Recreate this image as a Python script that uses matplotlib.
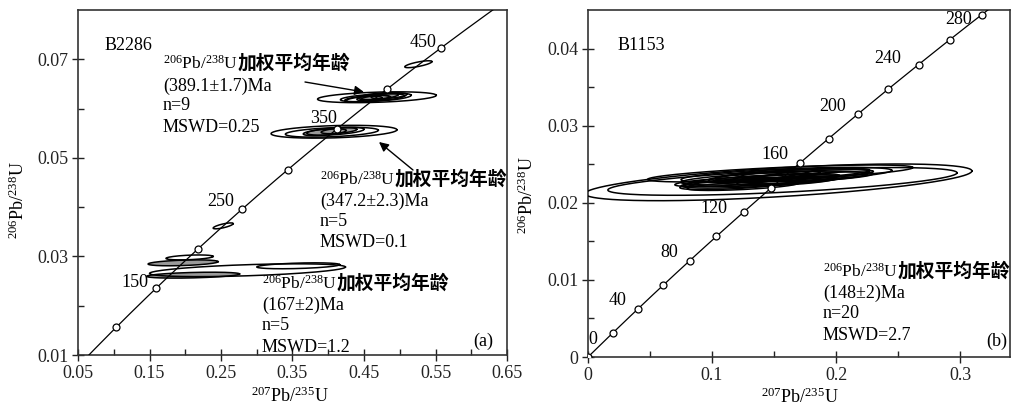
import numpy as np
import matplotlib
matplotlib.use("Agg")
import matplotlib.pyplot as plt
from matplotlib.ticker import FixedLocator, FuncFormatter
from matplotlib.offsetbox import TextArea, HPacker, AnnotationBbox
from matplotlib.patches import FancyArrowPatch, Polygon

plt.rcParams['mathtext.fontset'] = 'custom'
plt.rcParams['mathtext.rm'] = 'Liberation Serif'
plt.rcParams['mathtext.it'] = 'Liberation Serif:italic'
plt.rcParams['mathtext.bf'] = 'Liberation Serif:bold'
plt.rcParams['font.family'] = ['Liberation Serif', 'DejaVu Serif']

# ---------------- data ----------------
# decay constants (per Ma)
LAMBDA_238 = 1.55125e-4
LAMBDA_235 = 9.8485e-4

# panel (a) concordia
a_marker_ages = [100, 150, 200, 250, 300, 350, 400, 450]
a_label_ages = [150, 250, 350, 450]
a_curve_range = (50, 520)
# panel (b) concordia
b_marker_ages = [0, 20, 40, 60, 80, 100, 120, 140, 160, 180, 200, 220, 240, 260, 280]
b_label_ages = [0, 40, 80, 120, 160, 200, 240, 280]
b_curve_range = (0, 300)

# panel (a) error ellipses: centre x (207Pb/235U), centre y (206Pb/238U), half-widths, correlation
a_ell_x   = [0.468, 0.462, 0.455, 0.470, 0.478, 0.465, 0.485, 0.450, 0.526,
             0.408, 0.405, 0.410, 0.395, 0.415,
             0.287, 0.197, 0.206, 0.211, 0.358, 0.253]
a_ell_y   = [0.0623, 0.0622, 0.0620, 0.0625, 0.0623, 0.0621, 0.0626, 0.0619, 0.0690,
             0.0553, 0.0552, 0.0554, 0.0552, 0.0555,
             0.0272, 0.0287, 0.0298, 0.0262, 0.0281, 0.0362]
a_ell_sx  = [0.083, 0.045, 0.032, 0.028, 0.038, 0.020, 0.025, 0.025, 0.019,
             0.088, 0.065, 0.040, 0.030, 0.025,
             0.137, 0.049, 0.033, 0.065, 0.058, 0.014]
a_ell_sy  = [0.0011, 0.0008, 0.0007, 0.0007, 0.0008, 0.0006, 0.0006, 0.0006, 0.0007,
             0.0013, 0.0010, 0.0008, 0.0007, 0.0006,
             0.0013, 0.0006, 0.0005, 0.0006, 0.0006, 0.0006]
a_ell_rho = [0.35, 0.5, 0.5, 0.5, 0.5, 0.5, 0.5, 0.5, 0.75,
             0.3, 0.4, 0.5, 0.5, 0.5,
             0.5, 0.4, 0.4, 0.4, 0.4, 0.75]

# panel (b) error ellipses (n=20)
b_ell_x   = [0.1536, 0.1568, 0.155, 0.160,
             0.150, 0.140, 0.165, 0.130, 0.175, 0.155, 0.120, 0.185,
             0.145, 0.160, 0.135, 0.170, 0.150, 0.110, 0.190, 0.125]
b_ell_y   = [0.02265, 0.02277, 0.0238, 0.0236,
             0.0232, 0.0229, 0.0236, 0.0226, 0.0238, 0.0231, 0.0224, 0.0237,
             0.0235, 0.0228, 0.0233, 0.0230, 0.0239, 0.0227, 0.0234, 0.0222]
b_ell_sx  = [0.156, 0.1408, 0.107, 0.085,
             0.075, 0.060, 0.062, 0.055, 0.052, 0.048, 0.046, 0.045,
             0.042, 0.040, 0.038, 0.036, 0.032, 0.040, 0.040, 0.045]
b_ell_sy  = [0.00238, 0.0018, 0.0011, 0.0010,
             0.0009, 0.0008, 0.0008, 0.0007, 0.0007, 0.0007, 0.0007, 0.0006,
             0.0006, 0.0006, 0.0006, 0.0006, 0.0005, 0.0006, 0.0006, 0.0006]
b_ell_rho = [0.62, 0.62, 0.7, 0.6,
             0.6, 0.6, 0.6, 0.6, 0.6, 0.6, 0.6, 0.6,
             0.6, 0.6, 0.6, 0.6, 0.6, 0.6, 0.6, 0.6]

# tick values / labels
a_xticks = [0.05, 0.15, 0.25, 0.35, 0.45, 0.55, 0.65]
a_xminor = [0.10, 0.20, 0.30, 0.40, 0.50, 0.60]
a_yticks = [0.01, 0.03, 0.05, 0.07]
a_yminor = [0.02, 0.04, 0.06]
b_xticks = [0.0, 0.1, 0.2, 0.3]
b_xminor = [0.05, 0.15, 0.25]
b_yticks = [0.0, 0.01, 0.02, 0.03, 0.04]
b_yminor = [0.005, 0.015, 0.025, 0.035]

# texts
sample_a = "B2286"
sample_b = "B1153"
notes_a = [["(389.1±1.7)Ma", "n=9", "MSWD=0.25"],
           ["(347.2±2.3)Ma", "n=5", "MSWD=0.1"],
           ["(167±2)Ma", "n=5", "MSWD=1.2"]]
notes_b = [["(148±2)Ma", "n=20", "MSWD=2.7"]]
head_iso = r"$^{206}$Pb/$^{238}$U"
head_cn = "加权平均年龄"
xlab = r"$^{207}$Pb/$^{235}$U"
ylab = r"$^{206}$Pb/$^{238}$U"

# ---------------- figure ----------------
W, H = 1011, 412
fig = plt.figure(figsize=(W / 100, H / 100), dpi=100)

def P(x, y):
    return (x, H - y)

axa = fig.add_axes([78 / W, 1 - 355 / H, 429 / W, 345 / H])
axb = fig.add_axes([588 / W, 1 - 357 / H, 421.6 / W, 347 / H])

FS = 13

def concordia(t):
    t = np.asarray(t, dtype=float)
    return np.exp(LAMBDA_235 * t) - 1, np.exp(LAMBDA_238 * t) - 1

def draw_ellipses(ax, xs, ys, sxs, sys_, rhos, fill_idx=()):
    th = np.linspace(0, 2 * np.pi, 300)
    for i, (cx, cy, sx, sy, r) in enumerate(zip(xs, ys, sxs, sys_, rhos)):
        ex = cx + sx * np.cos(th)
        ey = cy + sy * (r * np.cos(th) + np.sqrt(1 - r * r) * np.sin(th))
        if i in fill_idx:
            ax.add_patch(Polygon(np.column_stack([ex, ey]), closed=True,
                                 facecolor='#9a9a9a', edgecolor='none', zorder=2.5))
        ax.plot(ex, ey, color='black', lw=1.1, zorder=3)

def draw_concordia(ax, rng, marker_ages, label_ages, offsets):
    tt = np.linspace(rng[0], rng[1], 400)
    cx, cy = concordia(tt)
    ax.plot(cx, cy, color='black', lw=0.9, zorder=4)
    mx, my = concordia(marker_ages)
    ax.plot(mx, my, 'o', ms=5, mfc='white', mec='black', mew=0.9, zorder=5, ls='none')
    lx, ly = concordia(label_ages)
    for age, x, y, off in zip(label_ages, lx, ly, offsets):
        ax.annotate(str(age), xy=(x, y), xytext=off, textcoords='offset pixels',
                    ha='center', va='center', fontsize=FS, zorder=6)

def style_axes(ax, xlim, ylim, xt, xm, yt, ym, fmt):
    ax.set_xlim(*xlim)
    ax.set_ylim(*ylim)
    ax.xaxis.set_major_locator(FixedLocator(xt))
    ax.xaxis.set_minor_locator(FixedLocator(xm))
    ax.yaxis.set_major_locator(FixedLocator(yt))
    ax.yaxis.set_minor_locator(FixedLocator(ym))
    ax.xaxis.set_major_formatter(FuncFormatter(fmt))
    ax.yaxis.set_major_formatter(FuncFormatter(fmt))
    ax.tick_params(which='major', direction='inout', length=8, width=1.0,
                   labelsize=FS, pad=3, colors='#222222')
    ax.tick_params(which='minor', direction='in', length=4, width=1.0, colors='#222222')
    for s in ax.spines.values():
        s.set_color('#333333')
        s.set_linewidth(1.2)
    ax.set_facecolor('white')

def fmt_a(v, pos):
    return "%.2f" % v

def fmt_b(v, pos):
    return "0" if abs(v) < 1e-12 else ("%g" % v)

style_axes(axa, (0.05, 0.65), (0.01, 0.08), a_xticks, a_xminor, a_yticks, a_yminor, fmt_a)
style_axes(axb, (0.0, 0.34), (0.0, 0.045), b_xticks, b_xminor, b_yticks, b_yminor, fmt_b)

draw_ellipses(axa, a_ell_x, a_ell_y, a_ell_sx, a_ell_sy, a_ell_rho,
              fill_idx=(3, 5, 12, 13, 15, 17))
draw_ellipses(axb, b_ell_x, b_ell_y, b_ell_sx, b_ell_sy, b_ell_rho)

draw_concordia(axa, a_curve_range, a_marker_ages, a_label_ages,
               [(-21, 6), (-21, 8), (-13, 11), (-18, 5)])
draw_concordia(axb, b_curve_range, b_marker_ages, b_label_ages,
               [(5, 17), (-20, 9), (-20, 8), (-30, 4), (-25, 9), (-25, 8), (-31, 6), (-23, -5)])

# ---------------- annotations ----------------
def header(x, y):
    t1 = TextArea(head_iso, textprops=dict(fontsize=12.5, family='Liberation Serif'))
    t2 = TextArea(head_cn, textprops=dict(fontsize=13.5, family='Noto Sans CJK SC', weight='bold'))
    box = HPacker(children=[t1, t2], align='baseline', pad=0, sep=0)
    ab = AnnotationBbox(box, P(x, y), xycoords='figure pixels', box_alignment=(0, 0.5),
                        frameon=False, pad=0, zorder=10)
    fig.add_artist(ab)

def note_block(x, ys, lines):
    header(x, ys[0])
    for yy, s in zip(ys[1:], lines):
        fig.text(x / W, 1 - yy / H, s, fontsize=FS, ha='left', va='center')

note_block(163, [63, 86, 106, 127], notes_a[0])
note_block(320, [179, 201, 222, 243], notes_a[1])
note_block(262, [283, 305, 326, 347], notes_a[2])
note_block(823, [271, 293, 314, 335], notes_b[0])

fig.text(105 / W, 1 - 45 / H, sample_a, fontsize=FS, ha='left', va='center')
fig.text(618 / W, 1 - 45 / H, sample_b, fontsize=FS, ha='left', va='center')
fig.text(483 / W, 1 - 341 / H, "(a)", fontsize=FS, ha='center', va='center')
fig.text(997 / W, 1 - 341 / H, "(b)", fontsize=FS, ha='center', va='center')

# arrows
arr = dict(arrowstyle='-|>', color='black', lw=1.0, mutation_scale=14, shrinkA=0, shrinkB=0)
fig.add_artist(FancyArrowPatch(P(305, 82), P(364, 92), transform=None, **arr))
fig.add_artist(FancyArrowPatch(P(413, 170), P(379, 142), transform=None, **arr))

# axis labels
fig.text(290 / W, 1 - 396 / H, xlab, fontsize=FS, ha='center', va='center')
fig.text(800 / W, 1 - 397 / H, xlab, fontsize=FS, ha='center', va='center')
fig.text(18 / W, 1 - 200 / H, ylab, fontsize=FS, ha='center', va='center', rotation=90)
fig.text(527 / W, 1 - 195 / H, ylab, fontsize=FS, ha='center', va='center', rotation=90)

fig.savefig("out.png", dpi=100, facecolor='white')
